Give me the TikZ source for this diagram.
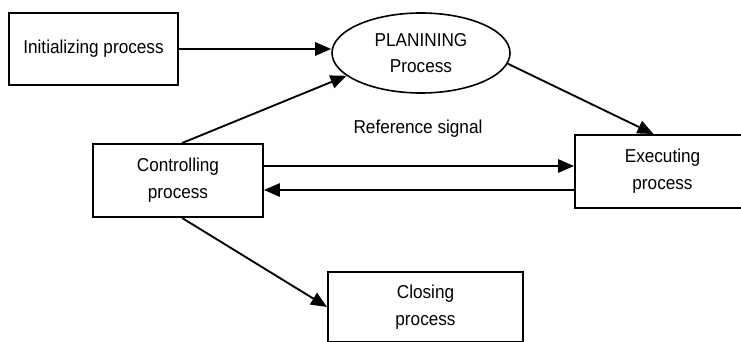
\documentclass[tikz,border=0pt]{standalone}
\usepackage{fontspec}
\setmainfont{Liberation Sans}[FakeStretch=0.92]
\usetikzlibrary{arrows.meta,calc,shapes.geometric}
\begin{document}
\begin{tikzpicture}[x=0.75pt,y=-0.75pt,
  font=\fontsize{14}{20}\selectfont,
  box/.style={draw,line width=1.4pt,align=center,inner sep=0pt},
  ell/.style={draw,ellipse,line width=1.2pt,align=center,inner sep=0pt},
  arr/.style={line width=1.4pt,-{Triangle[length=12pt,width=10pt]}},
  lbl/.style={inner sep=0pt}]
\useasboundingbox (0,0) rectangle (741,342);
\node[box,minimum width=126.75pt,minimum height=54pt] (init) at (93.5,49) {Initializing process};
\node[ell,minimum width=133.5pt,minimum height=60pt] (pl) at (421,53) {PLANINING\\Process};
\node[box,minimum width=131.25pt,minimum height=54.75pt] (ex) at (662.5,171.5) {Executing\\process};
\node[box,minimum width=127.5pt,minimum height=54.75pt] (ctrl) at (178,180.5) {Controlling\\process};
\node[box,minimum width=146.25pt,minimum height=52.5pt] (cl) at (425.5,307) {Closing\\process};
\node[lbl] (ref) at (418,129) {Reference signal};
\coordinate (c1) at ($(ctrl.east)+(0,-14.5)$);
\coordinate (c2) at ($(ctrl.east)+(0,9.5)$);
\draw[arr] (init.east) -- (init.east -| pl.west);
\draw[arr] ($(ctrl.north)+(4,0)$) -- (pl.197);
\draw[arr] (pl.-7) -- ($(ex.north)+(-9,0)$);
\draw[arr] (c1) -- (c1 -| ex.west);
\draw[arr] (c2 -| ex.west) -- (c2);
\draw[arr] ($(ctrl.south)+(4,0)$) -- (cl.west);
\end{tikzpicture}
\end{document}
